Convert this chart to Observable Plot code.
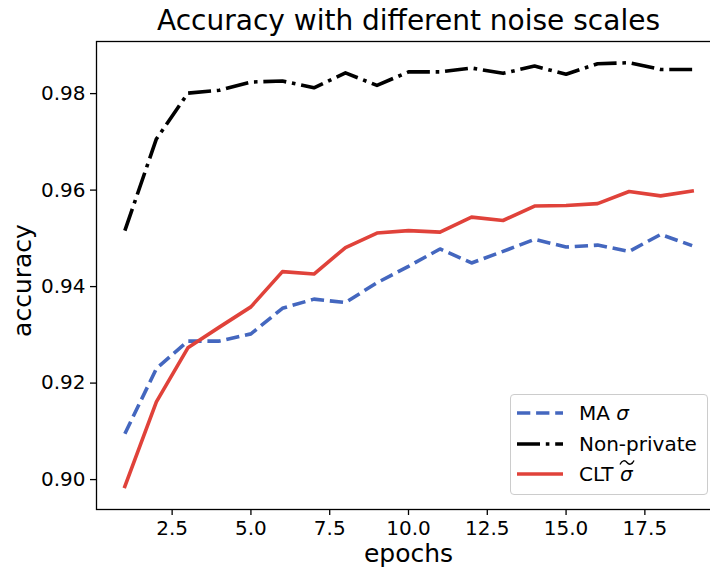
<!DOCTYPE html>
<html>
<head>
<meta charset="utf-8">
<script src="https://cdn.jsdelivr.net/npm/d3@7"></script>
<script src="https://cdn.jsdelivr.net/npm/@observablehq/plot@0.6"></script>
<style>
  html, body { margin: 0; padding: 0; background: white; overflow: hidden; }
  #wrap { position: relative; width: 710px; height: 569px; font-family: "DejaVu Sans", sans-serif; }
  #legend { position: absolute; left: 510px; top: 394px; width: 196px; height: 99px;
    border: 1px solid #cccccc; border-radius: 4px; background: rgba(255,255,255,0.85);
    font-family: "DejaVu Sans", sans-serif; font-size: 20px; color: #000; }
  .row { position: absolute; left: 0; height: 30px; display: flex; align-items: center; }
  .row > svg { margin-left: 6px; margin-right: 16px; }
  .tl { position: relative; display: inline-block; }
  .tl svg { position: absolute; left: -1px; top: -3px; }
</style>
</head>
<body>
<div id="wrap"></div>
<script>
// ---- data ----
const epochs = [1, 2, 3, 4, 5, 6, 7, 8, 9, 10, 11, 12, 13, 14, 15, 16, 17, 18, 19];
const maSigma = [0.9095, 0.9230, 0.9287, 0.9287, 0.9302, 0.9355, 0.9374, 0.9367, 0.9408, 0.9442,
                 0.9478, 0.9449, 0.9473, 0.9498, 0.9482, 0.9486, 0.9473, 0.9508, 0.9485];
const nonPrivate = [0.9516, 0.9706, 0.9801, 0.9807, 0.9824, 0.9826, 0.9812, 0.9843, 0.9817, 0.9845,
                    0.9845, 0.9853, 0.9842, 0.9857, 0.9840, 0.9862, 0.9864, 0.9850, 0.9850];
const cltSigma = [0.8986, 0.9161, 0.9273, 0.9316, 0.9358, 0.9431, 0.9426, 0.9481, 0.9511, 0.9516,
                  0.9513, 0.9544, 0.9537, 0.9567, 0.9568, 0.9572, 0.9597, 0.9588, 0.9598];
const xTicks = [2.5, 5, 7.5, 10, 12.5, 15, 17.5];
const xTickLabels = ["2.5", "5.0", "7.5", "10.0", "12.5", "15.0", "17.5"];
const yTicks = [0.90, 0.92, 0.94, 0.96, 0.98];
const yTickLabels = ["0.90", "0.92", "0.94", "0.96", "0.98"];
const titleText = "Accuracy with different noise scales";
const xLabel = "epochs";
const yLabel = "accuracy";
const seriesNames = ["MA", "Non-private", "CLT"];

const rows = epochs.map((e, i) => ({epoch: e, ma: maSigma[i], np: nonPrivate[i], clt: cltSigma[i]}));

const BLUE = "#4467bf", RED = "#e0423a", BLACK = "#000000";
const LW = 3.6;

const chart = Plot.plot({
  width: 710,
  height: 569,
  marginTop: 41,
  marginBottom: 60,
  marginLeft: 96,
  marginRight: -10,
  style: {fontFamily: "DejaVu Sans, sans-serif", fontSize: "20px", color: "#000", background: "white"},
  x: {domain: [0.1, 19.9]},
  y: {domain: [0.8938, 0.9908]},
  marks: [
    Plot.axisX({ticks: xTicks, tickFormat: d => xTickLabels[xTicks.indexOf(d)], tickSize: 6, tickPadding: 5,
                strokeWidth: 1.3, label: null, fontSize: 20}),
    Plot.axisY({ticks: yTicks, tickFormat: d => yTickLabels[yTicks.indexOf(d)], tickSize: 6, tickPadding: 5,
                strokeWidth: 1.3, label: null, fontSize: 20}),
    Plot.line(rows, {x: "epoch", y: "ma", stroke: BLUE, strokeWidth: LW,
                     strokeDasharray: "13.3,5.8", strokeLinecap: "butt", strokeLinejoin: "round"}),
    Plot.line(rows, {x: "epoch", y: "np", stroke: BLACK, strokeWidth: LW,
                     strokeDasharray: "23,5.8,3.6,5.8", strokeLinecap: "butt", strokeLinejoin: "round"}),
    Plot.line(rows, {x: "epoch", y: "clt", stroke: RED, strokeWidth: LW,
                     strokeLinecap: "square", strokeLinejoin: "round"}),
    Plot.frame({stroke: "black", strokeWidth: 1.3}),
    Plot.text([titleText], {text: d => d, frameAnchor: "top", lineAnchor: "middle", textAnchor: "middle",
                            dy: -20, fontSize: 28, fill: "black"}),
    Plot.text([xLabel], {text: d => d, frameAnchor: "bottom", lineAnchor: "middle", textAnchor: "middle",
                         dy: 44, fontSize: 25, fill: "black"}),
    Plot.text([yLabel], {text: d => d, frameAnchor: "left", lineAnchor: "middle", textAnchor: "middle",
                         dx: -74, dy: 5, rotate: -90, fontSize: 25, fill: "black"})
  ]
});

const wrap = document.getElementById("wrap");
wrap.appendChild(chart);

// legend (matplotlib-style box inside the axes)
const tildeSvg = `<svg width="16" height="7" viewBox="0 0 16 7"><path d="M1,5.5 C3,1 6,1 8,3.5 C10,6 13,6 15,1.5" fill="none" stroke="#000" stroke-width="1.4"/></svg>`;
const legend = document.createElement("div");
legend.id = "legend";
const entries = [
  {label: `${seriesNames[0]} <i>σ</i>`, color: BLUE, dash: "13.3,5.8", cap: "butt"},
  {label: seriesNames[1], color: BLACK, dash: "23,5.8,3.6,5.8", cap: "butt"},
  {label: `${seriesNames[2]} <span class="tl"><i>σ</i>${tildeSvg}</span>`, color: RED, dash: null, cap: "butt"}
];
entries.forEach((e, i) => {
  const row = document.createElement("div");
  row.className = "row";
  row.style.top = (3 + i * 30.5) + "px";
  row.innerHTML = `<svg width="46" height="10"><line x1="0" y1="5" x2="46" y2="5" stroke="${e.color}" stroke-width="${LW}" ${e.dash ? `stroke-dasharray="${e.dash}"` : ""} stroke-linecap="${e.cap}"/></svg><span>${e.label}</span>`;
  legend.appendChild(row);
});
wrap.appendChild(legend);
</script>
</body>
</html>
